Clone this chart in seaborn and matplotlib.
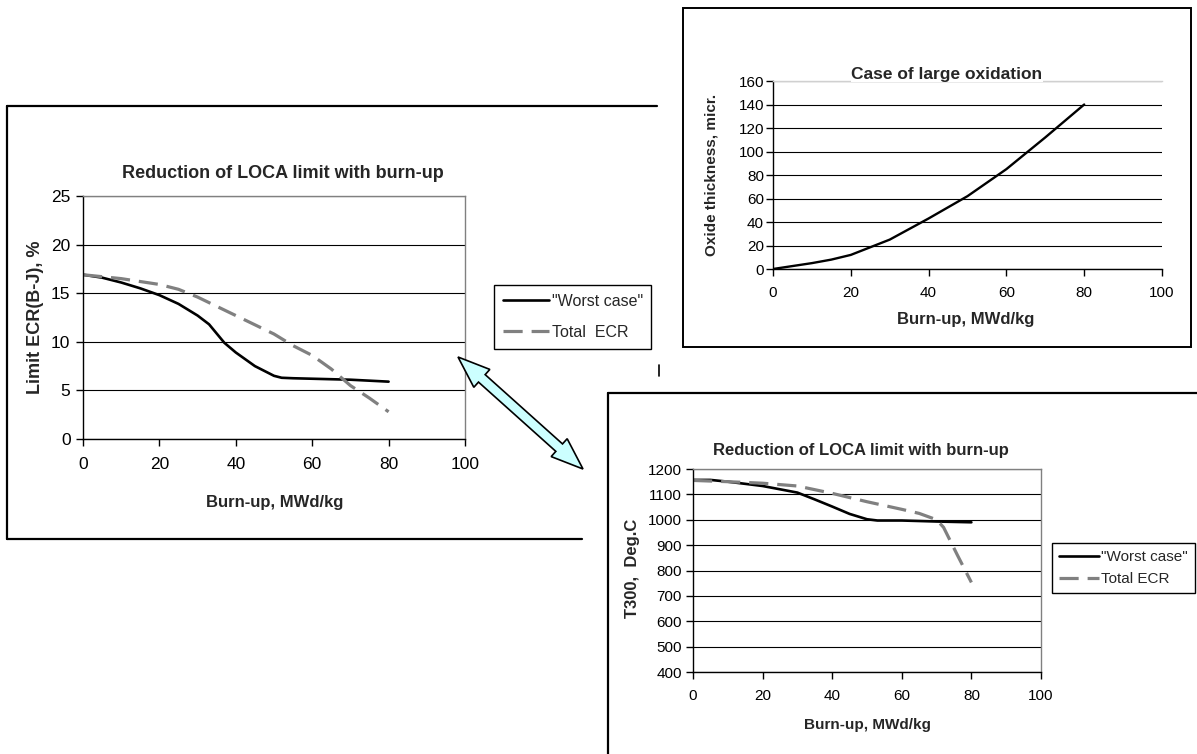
import numpy as np
import matplotlib
matplotlib.use("Agg")
import matplotlib.pyplot as plt
from matplotlib.lines import Line2D
from matplotlib.patches import Polygon
import seaborn as sns

# --- data ---
# Left chart: limit ECR (B-J), %
ecr_worst_bu = [0, 5, 10, 15, 20, 25, 30, 33, 37, 40, 45, 50, 52, 55, 60, 65, 70, 75, 80]
ecr_worst = [16.9, 16.6, 16.1, 15.5, 14.8, 13.9, 12.7, 11.8, 9.9, 8.9, 7.5, 6.5, 6.3, 6.25, 6.2, 6.15, 6.1, 6.0, 5.9]
ecr_total_bu = [0, 10, 20, 25, 30, 40, 50, 55, 60, 65, 70, 75, 80]
ecr_total = [16.9, 16.5, 15.9, 15.4, 14.6, 12.7, 10.8, 9.6, 8.6, 7.2, 5.5, 4.2, 2.8]

# Top right chart: oxide thickness, micr.
oxide_bu = [0, 10, 15, 20, 30, 40, 50, 60, 70, 80]
oxide = [0, 5, 8, 12, 25, 43, 62, 85, 112, 140]

# Bottom right chart: T300, Deg.C
t300_worst_bu = [0, 5, 10, 20, 30, 35, 40, 45, 50, 53, 60, 70, 80]
t300_worst = [1157, 1157, 1150, 1133, 1107, 1080, 1052, 1023, 1002, 997, 997, 993, 990]
t300_total_bu = [0, 10, 20, 30, 40, 50, 60, 65, 70, 72, 76, 80]
t300_total = [1155, 1150, 1144, 1133, 1104, 1071, 1041, 1025, 1000, 970, 860, 753]

series_names = ['"Worst case"', "Total  ECR"]
series_names_br = ['"Worst case"', "Total ECR"]

W, H = 1197, 754

sns.set_style("ticks")
plt.rcParams['font.family'] = ['Liberation Sans', 'DejaVu Sans']

fig = plt.figure(figsize=(W / 100, H / 100), dpi=100)


def fx(px):
    return px / W


def fy(py):
    return 1 - py / H


def axes_px(x0, y0, x1, y1):
    return fig.add_axes([fx(x0), fy(y1), (x1 - x0) / W, (y1 - y0) / H])


def fig_line(xs, ys, lw=1.6, color='black'):
    fig.add_artist(Line2D([fx(x) for x in xs], [fy(y) for y in ys],
                          color=color, lw=lw, transform=fig.transFigure))


def style_axes(ax, top_color, right_color, labelsize, pad_x, pad_y):
    ax.set_facecolor('white')
    ax.spines['top'].set_color(top_color)
    ax.spines['right'].set_color(right_color)
    ax.spines['left'].set_color('black')
    ax.spines['bottom'].set_color('black')
    for s in ax.spines.values():
        s.set_linewidth(1.0)
    ax.yaxis.grid(True, color='black', lw=0.8)
    ax.xaxis.grid(False)
    ax.set_axisbelow(True)
    ax.tick_params(direction='out', length=5, width=1, colors='black',
                   labelsize=labelsize, bottom=True, left=True)
    ax.tick_params(axis='x', pad=pad_x)
    ax.tick_params(axis='y', pad=pad_y)
    ax.set_xlabel('')
    ax.set_ylabel('')


# -----------------------------
# Left chart
ax1 = axes_px(83, 196, 465, 439)
sns.lineplot(x=ecr_worst_bu, y=ecr_worst, ax=ax1, color='black', linewidth=1.9)
sns.lineplot(x=ecr_total_bu, y=ecr_total, ax=ax1, color='#808080', linewidth=2.3)
ax1.lines[-1].set_dashes([6, 2.8])
ax1.set_xlim(0, 100)
ax1.set_ylim(0, 25)
ax1.set_xticks(range(0, 101, 20))
ax1.set_yticks(range(0, 26, 5))
style_axes(ax1, '#808080', '#808080', 12.5, 8, 4)
fig.text(fx(283), fy(173), "Reduction of LOCA limit with burn-up", ha='center', va='center',
         fontsize=13, fontweight='bold')
fig.text(fx(36), fy(317), "Limit ECR(B-J), %", ha='center', va='center', rotation=90,
         fontsize=13, fontweight='bold')
fig.text(fx(275), fy(503), "Burn-up, MWd/kg", ha='center', va='center',
         fontsize=12, fontweight='bold')
leg1 = ax1.legend(handles=ax1.lines[:2], labels=series_names, loc='upper left',
                  bbox_to_anchor=(fx(494), fy(285)), bbox_transform=fig.transFigure,
                  frameon=True, fancybox=False, edgecolor='black', framealpha=1,
                  borderaxespad=0, fontsize=11.5, handlelength=2.9, handletextpad=0.15,
                  labelspacing=1.0, borderpad=0.55)
leg1.get_frame().set_linewidth(1.0)

# frame of left chart (right side cut off)
fig_line([7, 657], [106, 106])
fig_line([7, 7], [106, 539])
fig_line([7, 582], [539, 539])

# -----------------------------
# Top right chart
ax2 = axes_px(773, 81, 1162, 269)
sns.lineplot(x=oxide_bu, y=oxide, ax=ax2, color='black', linewidth=1.7)
ax2.set_xlim(0, 100)
ax2.set_ylim(0, 160)
ax2.set_xticks(range(0, 101, 20))
ax2.set_yticks(range(0, 161, 20))
style_axes(ax2, '#d0d0d0', 'white', 11, 7, 1.5)
ax2.spines['right'].set_visible(False)
fig.text(fx(947), fy(74), "Case of large oxidation", ha='center', va='center',
         fontsize=12.5, fontweight='bold',
         bbox=dict(facecolor='white', edgecolor='none', pad=0))
fig.text(fx(712), fy(175), "Oxide thickness, micr.", ha='center', va='center', rotation=90,
         fontsize=11, fontweight='bold')
fig.text(fx(966), fy(319), "Burn-up, MWd/kg", ha='center', va='center',
         fontsize=12, fontweight='bold')
fig.add_artist(plt.Rectangle((fx(683), fy(347)), (1191 - 683) / W, (347 - 8) / H,
                             fill=False, edgecolor='black', lw=1.4,
                             transform=fig.transFigure))

# -----------------------------
# Bottom right chart
ax3 = axes_px(693, 469, 1041, 672)
sns.lineplot(x=t300_worst_bu, y=t300_worst, ax=ax3, color='black', linewidth=1.9)
sns.lineplot(x=t300_total_bu, y=t300_total, ax=ax3, color='#808080', linewidth=2.3)
ax3.lines[-1].set_dashes([6, 2.8])
ax3.set_xlim(0, 100)
ax3.set_ylim(400, 1200)
ax3.set_xticks(range(0, 101, 20))
ax3.set_yticks(range(400, 1201, 100))
style_axes(ax3, '#808080', '#808080', 11, 7, 3)
fig.text(fx(861), fy(450), "Reduction of LOCA limit with burn-up", ha='center', va='center',
         fontsize=12, fontweight='bold')
fig.text(fx(633), fy(568), "T300,  Deg.C", ha='center', va='center', rotation=90,
         fontsize=12, fontweight='bold')
fig.text(fx(867), fy(725), "Burn-up, MWd/kg", ha='center', va='center',
         fontsize=11, fontweight='bold')
leg3 = ax3.legend(handles=ax3.lines[:2], labels=series_names_br, loc='upper left',
                  bbox_to_anchor=(fx(1052), fy(543)), bbox_transform=fig.transFigure,
                  frameon=True, fancybox=False, edgecolor='black', framealpha=1,
                  borderaxespad=0, fontsize=11, handlelength=2.6, handletextpad=0.15,
                  labelspacing=0.55, borderpad=0.45)
leg3.get_frame().set_linewidth(1.0)

fig_line([608, 1197], [393, 393])
fig_line([608, 608], [393, 754])
fig_line([659, 659], [365, 376], lw=1.2)

# -----------------------------
# double arrow between the charts
p = np.array([458.0, 357.0])
q = np.array([583.0, 469.0])
u = (q - p) / np.linalg.norm(q - p)
n = np.array([-u[1], u[0]])
head_len, head_half, shaft_half = 32, 12, 5
pts = [p,
       p + head_len * u + head_half * n,
       p + head_len * u + shaft_half * n,
       q - head_len * u + shaft_half * n,
       q - head_len * u + head_half * n,
       q,
       q - head_len * u - head_half * n,
       q - head_len * u - shaft_half * n,
       p + head_len * u - shaft_half * n,
       p + head_len * u - head_half * n]
pts = [(fx(a), fy(b)) for a, b in pts]
fig.add_artist(Polygon(pts, closed=True, facecolor='#ccffff', edgecolor='black', lw=1.2,
                       transform=fig.transFigure))

fig.savefig("out.png", dpi=100, facecolor='white')
